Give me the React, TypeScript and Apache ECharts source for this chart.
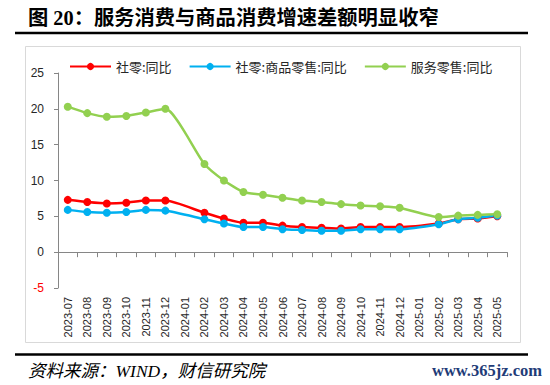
import React, { useEffect, useRef } from "react";
import * as echarts from "echarts";

const categories = [
  "2023-07", "2023-08", "2023-09", "2023-10", "2023-11", "2023-12",
  "2024-01", "2024-02", "2024-03", "2024-04", "2024-05", "2024-06",
  "2024-07", "2024-08", "2024-09", "2024-10", "2024-11", "2024-12",
  "2025-01", "2025-02", "2025-03", "2025-04", "2025-05",
];

const retailTotal = [7.3, 7.0, 6.8, 6.9, 7.2, 7.2, null, 5.5, 4.7, 4.1, 4.1, 3.7, 3.5, 3.4, 3.3, 3.5, 3.5, 3.5, null, 4.0, 4.6, 4.7, 5.0];
const retailGoods = [5.9, 5.6, 5.5, 5.6, 5.9, 5.8, null, 4.6, 4.0, 3.5, 3.5, 3.2, 3.1, 3.0, 3.0, 3.2, 3.2, 3.2, null, 3.9, 4.6, 4.8, 5.1];
const retailServices = [20.3, 19.4, 18.9, 19.0, 19.5, 20.0, null, 12.3, 10.0, 8.4, 8.0, 7.6, 7.2, 7.0, 6.7, 6.5, 6.4, 6.2, null, 4.9, 5.1, 5.2, 5.3];

const seriesNames = ["社零:同比", "社零:商品零售:同比", "服务零售:同比"];
const seriesColors = ["#FF0000", "#00B0F0", "#92D050"];

const titleText = "图 20：服务消费与商品消费增速差额明显收窄";
const sourceText = "资料来源：WIND，财信研究院";
const watermarkText = "www.365jz.com";

const CJK = '"Noto Sans CJK SC", "Noto Sans", sans-serif';
const SERIF_CJK = '"Liberation Serif", "Noto Sans CJK SC", serif';
const SANS = '"Liberation Sans", Arial, sans-serif';

export default function App() {
  const ref = useRef<HTMLDivElement>(null);

  useEffect(() => {
    if (!ref.current) return;
    const chart = echarts.init(ref.current, undefined, { renderer: "svg" });
    const data = [retailTotal, retailGoods, retailServices];
    chart.setOption({
      animation: false,
      backgroundColor: "#ffffff",
      grid: { left: 58, right: 43, top: 73, bottom: 97, containLabel: false },
      legend: {
        top: 55,
        left: 64,
        itemWidth: 41,
        itemHeight: 9,
        itemGap: 17,
        textStyle: { fontFamily: CJK, fontSize: 13, color: "#262626" },
        data: seriesNames,
      },
      xAxis: [
        {
          type: "category",
          data: categories,
          boundaryGap: true,
          axisLine: { onZero: true, lineStyle: { color: "#868686", width: 1 } },
          axisTick: { show: true, interval: 0, length: 5, lineStyle: { color: "#868686" } },
          axisLabel: { show: false },
          splitLine: { show: false },
        },
        {
          type: "category",
          data: categories,
          position: "bottom",
          boundaryGap: true,
          axisLine: { show: false, onZero: false },
          axisTick: { show: false },
          axisLabel: {
            interval: 0,
            rotate: 90,
            margin: 9,
            fontSize: 11,
            fontFamily: SANS,
            color: "#262626",
          },
          splitLine: { show: false },
        },
      ],
      yAxis: {
        type: "value",
        min: -5,
        max: 25,
        interval: 5,
        axisLine: { show: true, lineStyle: { color: "#868686", width: 1 } },
        axisTick: { show: true, inside: false, length: 4, lineStyle: { color: "#868686" } },
        axisLabel: {
          margin: 14,
          fontSize: 12,
          fontFamily: SANS,
          color: (v: any) => (Number(v) < 0 ? "#FF0000" : "#262626"),
        },
        splitLine: { show: false },
      },
      series: seriesNames.map((name, i) => ({
        name,
        type: "line",
        xAxisIndex: 0,
        data: data[i],
        connectNulls: true,
        smooth: 0.2,
        symbol: "circle",
        symbolSize: 8,
        color: seriesColors[i],
        lineStyle: { width: 2.5, color: seriesColors[i] },
        itemStyle: { color: seriesColors[i] },
      })),
      graphic: [
        {
          type: "rect",
          z: -10,
          shape: { x: 25.5, y: 46.5, width: 495, height: 296 },
          style: { fill: "none", stroke: "#D9D9D9", lineWidth: 1 },
          silent: true,
        },
        {
          type: "line",
          shape: { x1: 15, y1: 33, x2: 528, y2: 33 },
          style: { stroke: "#000000", lineWidth: 2.5 },
          silent: true,
        },
        {
          type: "line",
          shape: { x1: 15, y1: 354.5, x2: 528, y2: 354.5 },
          style: { stroke: "#000000", lineWidth: 2.5 },
          silent: true,
        },
        {
          type: "text",
          x: 28,
          y: 18,
          style: {
            text: titleText,
            fontFamily: SERIF_CJK,
            fontWeight: "bold",
            fontSize: 20.3,
            fill: "#000000",
            verticalAlign: "middle",
          },
        },
        {
          type: "text",
          x: 28,
          y: 371,
          style: {
            text: sourceText,
            fontFamily: SERIF_CJK,
            fontStyle: "italic",
            fontSize: 17.5,
            fill: "#000000",
            verticalAlign: "middle",
          },
        },
        {
          type: "text",
          x: 542,
          y: 370,
          style: {
            text: watermarkText,
            fontFamily: '"Liberation Serif", serif',
            fontWeight: "bold",
            fontSize: 16.5,
            fill: "#1F3C78",
            align: "right",
            verticalAlign: "middle",
          },
        },
      ],
    });
    return () => chart.dispose();
  }, []);

  return (
    <div
      ref={ref}
      style={{ position: "fixed", left: 0, top: 0, width: 550, height: 385, background: "#fff" }}
    />
  );
}
